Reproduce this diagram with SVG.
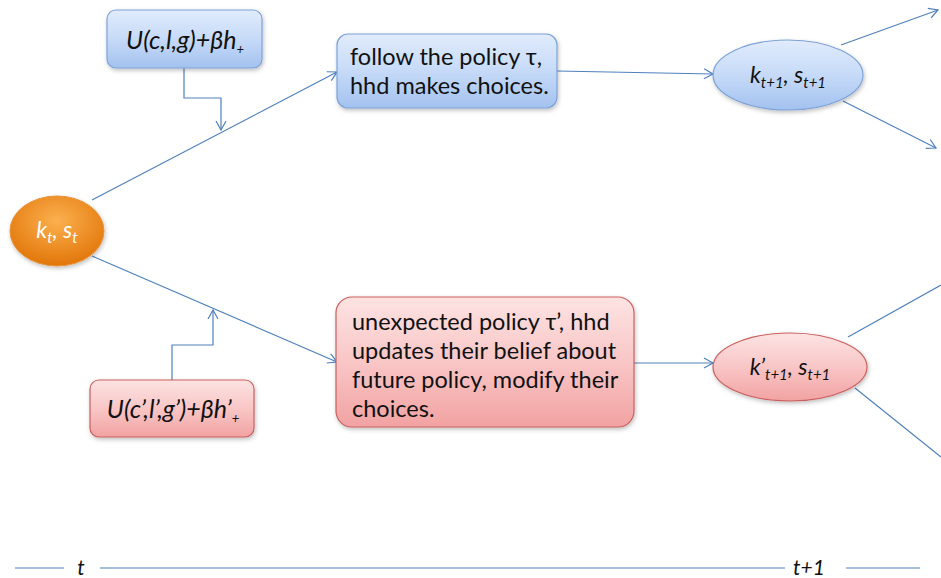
<svg xmlns="http://www.w3.org/2000/svg" width="941" height="578" viewBox="0 0 941 578">
<defs>
<linearGradient id="gb" x1="0" y1="0" x2="0" y2="1"><stop offset="0" stop-color="#e1ecfc"/><stop offset="0.5" stop-color="#c6daf8"/><stop offset="1" stop-color="#a3c2ef"/></linearGradient>
<linearGradient id="gp" x1="0" y1="0" x2="0" y2="1"><stop offset="0" stop-color="#fde3e3"/><stop offset="0.5" stop-color="#f9c6c6"/><stop offset="1" stop-color="#f2a2a2"/></linearGradient>
<radialGradient id="go" cx="0.5" cy="0.35" r="0.65"><stop offset="0" stop-color="#fbb04e"/><stop offset="1" stop-color="#e2760a"/></radialGradient>
<filter id="sh" x="-20%" y="-20%" width="140%" height="150%"><feDropShadow dx="1" dy="2" stdDeviation="2" flood-color="#000" flood-opacity="0.25"/></filter>
<marker id="ar" markerWidth="12" markerHeight="12" refX="10" refY="6" orient="auto" markerUnits="userSpaceOnUse"><path d="M1,1 L10,6 L1,11" fill="none" stroke="#4f81bd" stroke-width="1.2"/></marker>
<style>
.b{fill:url(#gb);stroke:#7da2d8;stroke-width:1.2;filter:url(#sh)}
.p{fill:url(#gp);stroke:#c9605f;stroke-width:1.2;filter:url(#sh)}
.c{fill:none;stroke:#4f81bd;stroke-width:1.2}
.t{font-family:Lato,"Open Sans",sans-serif;font-size:23.5px;fill:#111}
.i{font-family:Lato,"Open Sans",sans-serif;font-style:italic;fill:#111}
</style>
</defs>
<g id="connectors">
<path class="c" d="M92,200 L337,72" marker-end="url(#ar)"/>
<path class="c" d="M184,68 V98 H221 V130" marker-end="url(#ar)"/>
<path class="c" d="M557,71 L713,74" marker-end="url(#ar)"/>
<path class="c" d="M841,45 L938,10" marker-end="url(#ar)"/>
<path class="c" d="M843,101 L936,148" marker-end="url(#ar)"/>
<path class="c" d="M92,256 L337,362" marker-end="url(#ar)"/>
<path class="c" d="M172,380 V345 H213 V310" marker-end="url(#ar)"/>
<path class="c" d="M634,363 L713,363" marker-end="url(#ar)"/>
<path class="c" d="M848,337 L941,285"/>
<path class="c" d="M855,388 L941,457"/>
<path class="c" d="M15,568 H64 M100,568 H785 M846,568 H920"/>
</g>
<g id="node-u"><rect class="b" x="107" y="10" width="155" height="58" rx="9"/>
<text class="i" x="185" y="49" font-size="25" text-anchor="middle">U(c,l,g)+βh<tspan font-size="13" dy="5">+</tspan></text></g>
<g id="node-follow"><rect class="b" x="337" y="34" width="220" height="74" rx="11"/>
<text class="t" x="350" y="65">follow the policy τ,</text><text class="t" x="350" y="94">hhd makes choices.</text></g>
<g id="node-kt1"><ellipse class="b" cx="788" cy="75" rx="75" ry="35"/>
<text class="i" x="788" y="83" font-size="23" text-anchor="middle">k<tspan font-size="15" dy="5">t+1</tspan><tspan dy="-5">, s</tspan><tspan font-size="15" dy="5">t+1</tspan></text></g>
<g id="node-kt"><ellipse cx="57" cy="231" rx="47" ry="35" fill="url(#go)" stroke="#e8923a" stroke-width="1" filter="url(#sh)"/>
<text class="i" x="57" y="238" font-size="23" text-anchor="middle" style="fill:#fff">k<tspan font-size="15" dy="5">t</tspan><tspan dy="-5">, s</tspan><tspan font-size="15" dy="5">t</tspan></text></g>
<g id="node-u2"><rect class="p" x="90" y="380" width="164" height="57" rx="9"/>
<text class="i" x="173" y="418" font-size="25" text-anchor="middle">U(c’,l’,g’)+βh’<tspan font-size="13" dy="5">+</tspan></text></g>
<g id="node-unexp"><rect class="p" x="336" y="297" width="298" height="130" rx="16"/>
<text class="t" x="352" y="330">unexpected policy τ’, hhd</text><text class="t" x="352" y="359">updates their belief about</text><text class="t" x="352" y="388">future policy, modify their</text><text class="t" x="352" y="417">choices.</text></g>
<g id="node-kt1p"><ellipse class="p" cx="790" cy="367" rx="77" ry="34"/>
<text class="i" x="790" y="375" font-size="23" text-anchor="middle">k’<tspan font-size="15" dy="5">t+1</tspan><tspan dy="-5">, s</tspan><tspan font-size="15" dy="5">t+1</tspan></text></g>
<g id="axis-labels"><text class="i" x="81" y="575" font-size="21" text-anchor="middle">t</text><text class="i" x="809" y="575" font-size="21" text-anchor="middle">t+1</text></g>
</svg>
